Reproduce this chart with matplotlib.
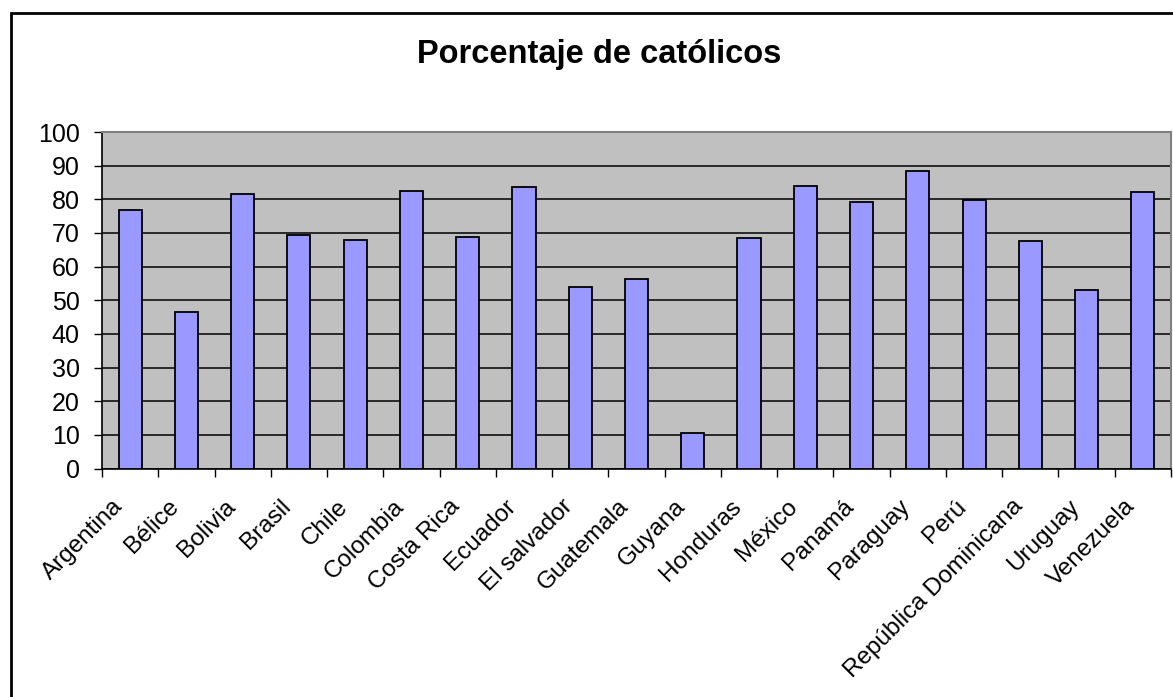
import matplotlib.pyplot as plt
import numpy as np
from matplotlib.patches import Rectangle
from matplotlib.transforms import ScaledTranslation

plt.rcParams['font.family'] = ['Liberation Sans', 'DejaVu Sans']

paises = ["Argentina", "Bélice", "Bolivia", "Brasil", "Chile", "Colombia",
          "Costa Rica", "Ecuador", "El salvador", "Guatemala", "Guyana",
          "Honduras", "México", "Panamá", "Paraguay", "Perú",
          "República Dominicana", "Uruguay", "Venezuela"]
catolicos = [76.8, 46.5, 81.7, 69.4, 68.0, 82.6, 68.9, 83.6, 53.9, 56.4,
             10.5, 68.6, 84.1, 79.3, 88.5, 79.8, 67.5, 52.9, 82.2]
yticks = list(range(0, 101, 10))

fig = plt.figure(figsize=(11.73, 6.97), dpi=100)
ax = fig.add_axes([102/1173, 1 - 468.5/697, (1171 - 102)/1173, (468.5 - 132)/697])

x = np.arange(len(paises))
ax.set_facecolor('#C0C0C0')
ax.bar(x, catolicos, width=0.41, color='#9999FF', edgecolor='black',
       linewidth=1.3, zorder=3)

ax.set_xlim(-0.5, len(paises) - 0.5)
ax.set_ylim(0, 100)
ax.set_yticks(yticks)
ax.yaxis.grid(True, color='black', linewidth=1.1, zorder=1)
ax.set_axisbelow(True)
ax.tick_params(axis='y', direction='out', length=6, width=1, labelsize=18, pad=10)

ax.set_xticks(x)
ax.set_xticklabels(paises, rotation=45, ha='right', va='center',
                   rotation_mode='anchor', fontsize=17.5)
ax.set_xticks(np.arange(-0.5, len(paises), 1), minor=True)
ax.tick_params(axis='x', which='major', length=0, pad=25)
ax.tick_params(axis='x', which='minor', direction='out', length=6, width=1)
# excel puts the rotated labels a little left of the category centre
shift = ScaledTranslation(-11/100, 0, fig.dpi_scale_trans)
for lab in ax.get_xticklabels():
    lab.set_transform(lab.get_transform() + shift)

for s in ['top', 'right']:
    ax.spines[s].set_color('#808080')
    ax.spines[s].set_linewidth(1.5)
for s in ['left', 'bottom']:
    ax.spines[s].set_color('black')
    ax.spines[s].set_linewidth(1.2)

fig.text(599/1173, 1 - 54/697, "Porcentaje de católicos", ha='center',
         va='center', fontsize=23.5, fontweight='bold')

fig.patches.append(Rectangle((11/1173, -0.1), 1.2, 1 - 13/697 + 0.1,
                             transform=fig.transFigure, fill=False,
                             edgecolor='black', linewidth=2))

fig.savefig("out.png", dpi=100)
